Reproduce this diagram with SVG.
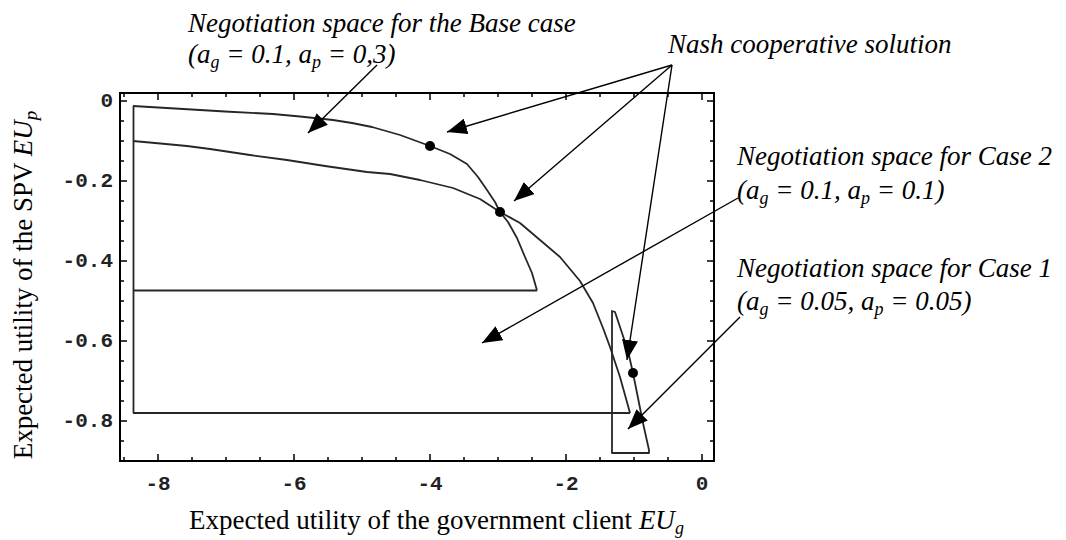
<svg xmlns="http://www.w3.org/2000/svg" width="1066" height="540" viewBox="0 0 1066 540">
<style>
.frame{fill:none;stroke:#000;stroke-width:2}
.tk{fill:none;stroke:#000;stroke-width:1.5}
.curve{fill:none;stroke:#262626;stroke-width:1.8;stroke-linejoin:round}
.arr{fill:none;stroke:#000;stroke-width:1.4;marker-end:url(#ah)}
.lab{font-family:"Liberation Serif","Times New Roman",serif;font-style:italic;font-size:27px;fill:#000}
.ax{font-family:"Liberation Serif","Times New Roman",serif;font-size:27px;fill:#000}
.num{font-family:"Liberation Mono","Courier New",monospace;font-size:21px;font-weight:bold;fill:#222}
.dot{fill:#000}
</style>
<defs>
<marker id="ah" viewBox="0 0 20 16" refX="20" refY="8" markerWidth="20" markerHeight="16" markerUnits="userSpaceOnUse" orient="auto">
<path d="M0,0 L20,8 L0,16 Z" fill="#000"/>
</marker>
</defs>
<rect width="1066" height="540" fill="#fff"/>

<g id="plot-frame">
<rect class="frame" x="120" y="93" width="594" height="368"/>
<path class="tk" d="M124 461v-4M158 461v-7M192 461v-4M226 461v-4M260 461v-4M294 461v-7M328 461v-4M362 461v-4M396 461v-4M430 461v-7M464 461v-4M498 461v-4M532 461v-4M566 461v-7M600 461v-4M634 461v-4M668 461v-4M702 461v-7"/>
<path class="tk" d="M124 93v4M158 93v7M192 93v4M226 93v4M260 93v4M294 93v7M328 93v4M362 93v4M396 93v4M430 93v7M464 93v4M498 93v4M532 93v4M566 93v7M600 93v4M634 93v4M668 93v4M702 93v7"/>
<path class="tk" d="M120 101h7M120 121h4M120 141h4M120 161h4M120 181h7M120 201h4M120 221h4M120 241h4M120 261h7M120 281h4M120 301h4M120 321h4M120 341h7M120 361h4M120 381h4M120 401h4M120 421h7M120 441h4"/>
<path class="tk" d="M714 101h-7M714 121h-4M714 141h-4M714 161h-4M714 181h-7M714 201h-4M714 221h-4M714 241h-4M714 261h-7M714 281h-4M714 301h-4M714 321h-4M714 341h-7M714 361h-4M714 381h-4M714 401h-4M714 421h-7M714 441h-4"/>
<g class="num" text-anchor="end">
<text x="113" y="107">0</text>
<text x="113" y="187">-0.2</text>
<text x="113" y="267">-0.4</text>
<text x="113" y="347">-0.6</text>
<text x="113" y="427">-0.8</text>
</g>
<g class="num" text-anchor="middle">
<text x="158" y="490">-8</text>
<text x="294" y="490">-6</text>
<text x="430" y="490">-4</text>
<text x="566" y="490">-2</text>
<text x="702" y="490">0</text>
</g>
</g>

<g id="axis-title-x">
<text class="ax" x="189" y="529">Expected utility of the government client <tspan font-style="italic">EU</tspan><tspan font-style="italic" font-size="18" dy="5">g</tspan></text>
</g>
<g id="axis-title-y">
<text class="ax" text-anchor="middle" font-size="29" transform="translate(32,285) rotate(-90)">Expected utility of the SPV <tspan font-style="italic">EU</tspan><tspan font-style="italic" font-size="19" dy="5">p</tspan></text>
</g>

<g id="region-base-case">
<path class="curve" d="M133,106 L175,108.5 L225,111.5 L273,114 L300,116.5 L333,120 L352,123 L372,127 L400,135 L430,146 L450,154 L467,164 L478,177 L487,190 L495,202 L500,212 L508,222 L517,238 L525,257 L532,273 L537,290.5"/>
<path class="curve" d="M133,290.5 H537"/>
</g>
<g id="region-case-2">
<path class="curve" d="M133,141 L155,143 L187,146 L210,149 L250,155 L287,160 L325,166 L367,172 L390,174 L420,180 L453,188 L480,199 L500,212 L520,223 L540,240 L560,257 L580,281 L593,303 L603,328 L610,347 L620,377 L630,413"/>
<path class="curve" d="M133,413 H630"/>
</g>
<g id="left-boundary">
<path class="curve" d="M133.5,106 V413"/>
</g>
<g id="region-case-1">
<path class="curve" d="M612,453 L612,311 L615,312 L622,333 L628,351 L633,373 L637,393 L643,423 L649,450 L649,453 Z"/>
</g>

<g id="nash-points">
<circle class="dot" cx="430" cy="146" r="5"/>
<circle class="dot" cx="500" cy="212" r="5"/>
<circle class="dot" cx="633" cy="373" r="5"/>
</g>

<g id="label-base-case">
<text class="lab" x="188" y="32">Negotiation space for the Base case</text>
<text class="lab" x="188" y="63">(a<tspan font-size="18" dy="5">g</tspan><tspan dy="-5"> = 0.1, a</tspan><tspan font-size="18" dy="5">p</tspan><tspan dy="-5"> = 0,3)</tspan></text>
</g>
<g id="label-nash">
<text class="lab" x="668" y="53">Nash cooperative solution</text>
</g>
<g id="label-case-2">
<text class="lab" x="737" y="165">Negotiation space for Case 2</text>
<text class="lab" x="737" y="199">(a<tspan font-size="18" dy="5">g</tspan><tspan dy="-5"> = 0.1, a</tspan><tspan font-size="18" dy="5">p</tspan><tspan dy="-5"> = 0.1)</tspan></text>
</g>
<g id="label-case-1">
<text class="lab" x="737" y="277">Negotiation space for Case 1</text>
<text class="lab" x="737" y="310">(a<tspan font-size="18" dy="5">g</tspan><tspan dy="-5"> = 0.05, a</tspan><tspan font-size="18" dy="5">p</tspan><tspan dy="-5"> = 0.05)</tspan></text>
</g>

<g id="connectors">
<path class="arr" d="M377,65 L308,133"/>
<path class="arr" d="M672,65 L447,132"/>
<path class="arr" d="M672,65 L514,201"/>
<path class="arr" d="M672,65 L627,360"/>
<path class="arr" d="M738,198 L482,343"/>
<path class="arr" d="M740,317 L628,429"/>
</g>
</svg>
